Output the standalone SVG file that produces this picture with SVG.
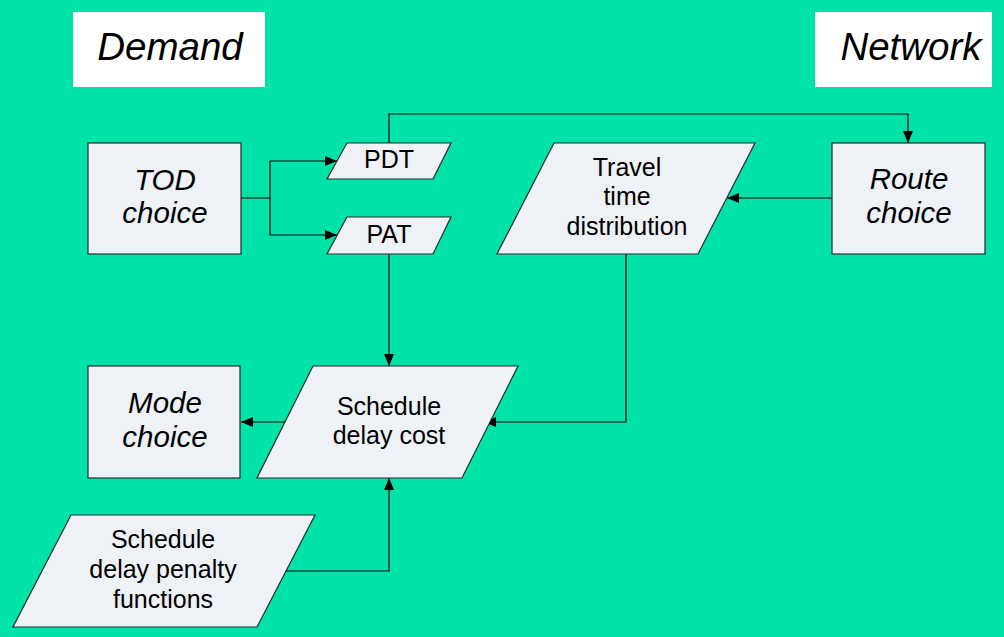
<svg xmlns="http://www.w3.org/2000/svg" width="1004" height="637" viewBox="0 0 1004 637">
  <style>
    .box { fill: #EEF1F6; stroke: #2a2a2a; stroke-width: 1.2; }
    .tag { fill: #FFFFFF; }
    .conn { fill: none; stroke: #000; stroke-width: 1.2; }
    text { font-family: "Liberation Sans", Arial, sans-serif; fill: #000; text-anchor: middle; }
    .it { font-style: italic; font-size: 29.5px; }
    .hd { font-style: italic; font-size: 38.5px; }
    .lb { font-size: 25px; }
  </style>
  <defs>
    <marker id="arr" viewBox="0 0 12 10" refX="12" refY="5" markerWidth="12" markerHeight="10" markerUnits="userSpaceOnUse" orient="auto">
      <path d="M0,0 L12,5 L0,10 Z" fill="#000"/>
    </marker>
  </defs>

  <rect width="1004" height="637" fill="#00E3A8"/>

  <g id="demand">
    <rect class="tag" x="73" y="12" width="192" height="75"/>
    <text class="hd" x="170" y="60">Demand</text>
  </g>
  <g id="network">
    <rect class="tag" x="815" y="12" width="177" height="75"/>
    <text class="hd" x="911" y="60">Network</text>
  </g>

  <g id="connectors">
    <polyline class="conn" points="241,198 270,198 270,161 337,161" marker-end="url(#arr)"/>
    <polyline class="conn" points="270,198 270,235 337,235" marker-end="url(#arr)"/>
    <polyline class="conn" points="389,143 389,114 908,114 908,143" marker-end="url(#arr)"/>
    <polyline class="conn" points="832,198 727,198" marker-end="url(#arr)"/>
    <polyline class="conn" points="389,254 389,366" marker-end="url(#arr)"/>
    <polyline class="conn" points="626,254 626,422 484,422" marker-end="url(#arr)"/>
    <polyline class="conn" points="285,422 241,422" marker-end="url(#arr)"/>
    <polyline class="conn" points="284,571 389,571 389,478" marker-end="url(#arr)"/>
  </g>

  <g id="tod">
    <rect class="box" x="88" y="143" width="153" height="111"/>
    <text class="it" x="165" y="190">TOD</text>
    <text class="it" x="165" y="223">choice</text>
  </g>
  <g id="pdt">
    <polygon class="box" points="347,143 451,143 433,179 327,179"/>
    <text class="lb" x="389" y="168">PDT</text>
  </g>
  <g id="pat">
    <polygon class="box" points="347,217 451,217 433,254 327,254"/>
    <text class="lb" x="389" y="243">PAT</text>
  </g>
  <g id="travel-time">
    <polygon class="box" points="554,143 755,143 698,254 497,254"/>
    <text class="lb" x="627" y="176">Travel</text>
    <text class="lb" x="627" y="205">time</text>
    <text class="lb" x="627" y="235">distribution</text>
  </g>
  <g id="route">
    <rect class="box" x="832" y="143" width="153" height="111"/>
    <text class="it" x="909" y="189">Route</text>
    <text class="it" x="909" y="223">choice</text>
  </g>
  <g id="mode">
    <rect class="box" x="88" y="366" width="152" height="112"/>
    <text class="it" x="165" y="413">Mode</text>
    <text class="it" x="165" y="447">choice</text>
  </g>
  <g id="sched-cost">
    <polygon class="box" points="313,366 518,366 462,478 257,478"/>
    <text class="lb" x="389" y="415">Schedule</text>
    <text class="lb" x="389" y="444">delay cost</text>
  </g>
  <g id="penalty">
    <polygon class="box" points="71,515 315,515 257,627 13,627"/>
    <text class="lb" x="163" y="548">Schedule</text>
    <text class="lb" x="163" y="578">delay penalty</text>
    <text class="lb" x="163" y="608">functions</text>
  </g>
</svg>
